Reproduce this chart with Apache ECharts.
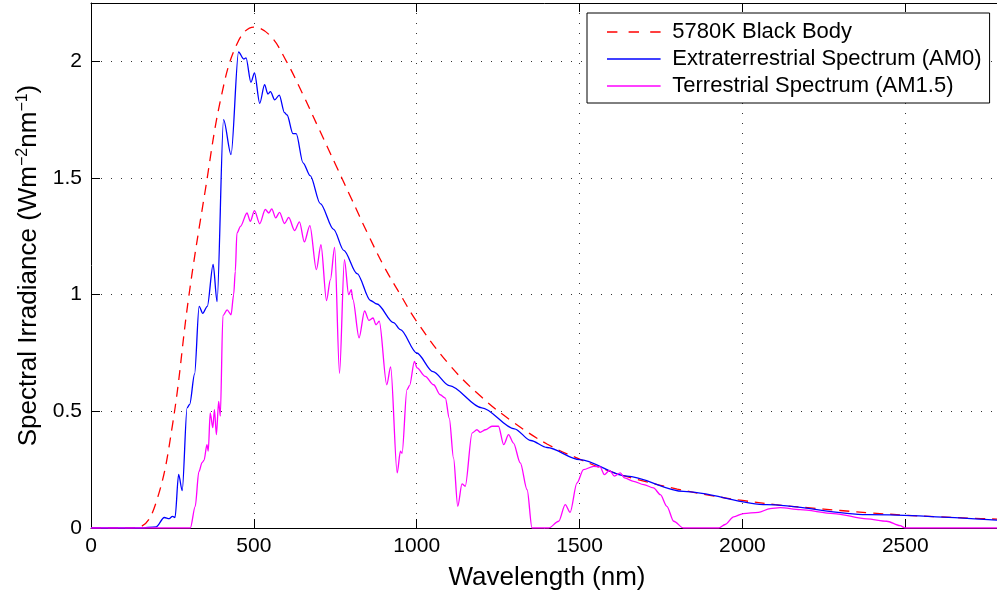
<!DOCTYPE html>
<html>
<head>
<meta charset="utf-8">
<script src="https://cdn.jsdelivr.net/npm/echarts@6/dist/echarts.min.js"></script>
<style>
  html, body { margin: 0; padding: 0; background: #fff; }
  #chart { width: 997px; height: 596px; }
</style>
</head>
<body>
<div id="chart"></div>
<script>
// 5780K black body
const bbWave = [0, 100, 150, 200, 250, 300, 350, 400, 450, 500, 550, 600, 650, 700, 750, 800, 850, 900, 950, 1000,
  1100, 1200, 1300, 1400, 1500, 1600, 1700, 1800, 1900, 2000, 2100, 2200, 2300, 2400, 2500, 2600, 2700, 2800]
const bbIrr = [0, 0, 0.005, 0.11, 0.44, 0.99, 1.44, 1.85, 2.08, 2.147, 2.11, 2.0, 1.86, 1.71, 1.56, 1.41, 1.26, 1.12, 1.0, 0.885,
  0.70, 0.56, 0.45, 0.36, 0.295, 0.24, 0.20, 0.167, 0.14, 0.118, 0.10, 0.087, 0.075, 0.064, 0.055, 0.048, 0.042, 0.037]

// Extraterrestrial spectrum AM0
const am0Wave = [0, 150, 200, 225, 240, 250, 258, 269, 280, 295, 303, 318, 332, 343, 357, 375, 387, 407, 430, 453, 469, 476,
  491, 502, 518, 533, 543, 551, 564, 578, 594, 602, 620, 630, 651, 673, 704, 745, 776, 817, 858, 878, 929, 950, 1000,
  1050, 1100, 1200, 1300, 1350, 1400, 1500, 1645, 1819, 2075, 2382, 2800]
const am0Irr = [0, 0, 0.005, 0.045, 0.04, 0.05, 0.045, 0.23, 0.16, 0.515, 0.53, 0.66, 0.95, 0.92, 0.95, 1.13, 0.97, 1.75, 1.60, 2.04, 2.01, 2.015,
  1.91, 1.95, 1.82, 1.90, 1.86, 1.87, 1.835, 1.855, 1.78, 1.77, 1.69, 1.69, 1.565, 1.51, 1.39, 1.28, 1.19, 1.09, 0.975, 0.96, 0.88, 0.85, 0.75,
  0.67, 0.61, 0.515, 0.425, 0.375, 0.345, 0.293, 0.222, 0.157, 0.10, 0.057, 0.032]

// Terrestrial spectrum AM1.5
const am15Wave = [0, 285, 305, 320, 331, 341, 347, 356, 360, 366, 374, 379, 385, 392, 397, 405, 418, 430, 438, 443, 448, 459,
  479, 489, 502, 518, 535, 546, 555, 567, 579, 594, 607, 625, 640, 655, 672, 692, 706, 723, 735, 748, 763, 778, 791, 799,
  804, 823, 840, 853, 866, 875, 885, 908, 920, 940, 950, 955, 970, 978, 993, 1001, 1026, 1052, 1072, 1088, 1100, 1113,
  1126, 1139, 1149, 1170, 1185, 1195, 1211, 1231, 1251, 1267, 1282, 1297, 1318, 1339, 1354, 1405, 1436, 1456, 1471,
  1492, 1512, 1543, 1563, 1576, 1592, 1607, 1625, 1638, 1666, 1697, 1727, 1748, 1768, 1789, 1819, 1927, 1947, 1973,
  2003, 2049, 2085, 2116, 2177, 2280, 2382, 2443, 2484, 2500, 2800]
const am15Irr = [0, 0, 0, 0.093, 0.24, 0.28, 0.29, 0.357, 0.33, 0.493, 0.43, 0.507, 0.40, 0.543, 0.48, 0.91, 0.935, 0.914, 1.0, 1.10, 1.264, 1.293,
  1.35, 1.314, 1.36, 1.304, 1.365, 1.35, 1.368, 1.329, 1.353, 1.305, 1.331, 1.275, 1.312, 1.226, 1.296, 1.107, 1.214, 0.975, 1.064, 1.203, 0.663, 1.15, 1.0, 1.021,
  0.98, 0.815, 0.93, 0.89, 0.90, 0.871, 0.886, 0.614, 0.69, 0.236, 0.329, 0.32, 0.593, 0.61, 0.714, 0.686, 0.65, 0.614, 0.571, 0.557, 0.47, 0.30,
  0.093, 0.189, 0.179, 0.407, 0.421, 0.41, 0.421, 0.436, 0.436, 0.357, 0.40, 0.364, 0.279, 0.164, 0, 0, 0.029, 0.10, 0.067,
  0.193, 0.25, 0.264, 0.262, 0.229, 0.247, 0.222, 0.236, 0.215, 0.20, 0.186, 0.172, 0.143, 0.093, 0.029, 0, 0, 0.015, 0.048,
  0.062, 0.067, 0.083, 0.087, 0.079, 0.062, 0.039, 0.029, 0.01, 0, 0]

const seriesNames = ['5780K Black Body', 'Extraterrestrial Spectrum (AM0)', 'Terrestrial Spectrum (AM1.5)']

const zip = (xs, ys) => xs.map((x, i) => [x, ys[i]])

const font = "'Liberation Sans', Arial, Helvetica, sans-serif"

// legend icons: dashed and solid line samples
const dashIcon = 'path://M0,0h13v2h-13z M27,0h13v2h-13z M54,0h13v2h-13z'
const solidIcon = 'path://M0,0h67v2h-67z'

const chart = echarts.init(document.getElementById('chart'), null, { renderer: 'canvas' })

const option = {
  animation: false,
  textStyle: { fontFamily: font },
  grid: { left: 91, right: -6, top: 3, bottom: 68, outerBoundsMode: 'none' },
  legend: {
    orient: 'vertical',
    left: 587,
    top: 13,
    padding: [8, 8, 6, 20],
    itemGap: 5,
    itemWidth: 67,
    itemHeight: 1.6,
    backgroundColor: '#fff',
    borderColor: '#000',
    borderWidth: 1,
    borderRadius: 0,
    textStyle: { fontSize: 22, color: '#000', fontFamily: font },
    data: [
      { name: seriesNames[0], icon: dashIcon, itemStyle: { color: '#ff0000' } },
      { name: seriesNames[1], icon: solidIcon, itemStyle: { color: '#0000ff' } },
      { name: seriesNames[2], icon: solidIcon, itemStyle: { color: '#ff00ff' } }
    ]
  },
  xAxis: [
    {
      type: 'value',
      min: 0,
      max: 2800,
      interval: 500,
      name: 'Wavelength (nm)',
      nameLocation: 'middle',
      nameGap: 37,
      nameTextStyle: { fontSize: 26, color: '#000', fontFamily: font },
      axisLine: { show: true, lineStyle: { color: '#000', width: 1 } },
      axisTick: { show: true, inside: true, length: 9, lineStyle: { color: '#000' } },
      axisLabel: { fontSize: 21, color: '#000', margin: 8, showMaxLabel: false, formatter: v => String(v) },
      splitLine: { show: true, lineStyle: { color: '#333', type: [1, 9], width: 1 } }
    },
    {
      type: 'value',
      position: 'top',
      min: 0,
      max: 2800,
      interval: 500,
      axisLine: { show: true, onZero: false, lineStyle: { color: '#000', width: 1 } },
      axisTick: { show: true, inside: true, length: 9, lineStyle: { color: '#000' } },
      axisLabel: { show: false },
      splitLine: { show: false }
    }
  ],
  yAxis: {
    type: 'value',
    min: 0,
    max: 2.25,
    interval: 0.5,
    name: 'Spectral Irradiance (Wm{sup|−2}nm{sup|−1})',
    nameLocation: 'middle',
    nameGap: 47,
    nameTextStyle: {
      fontSize: 26, color: '#000', fontFamily: font,
      rich: { sup: { fontSize: 16, color: '#000', fontFamily: font, verticalAlign: 'top', padding: [0, 0, 12, 0] } }
    },
    axisLine: { show: true, lineStyle: { color: '#000', width: 1 } },
    axisTick: { show: true, inside: true, length: 9, lineStyle: { color: '#000' } },
    axisLabel: { fontSize: 21, color: '#000', margin: 9, showMaxLabel: false },
    splitLine: { show: true, lineStyle: { color: '#333', type: [1, 9], width: 1 } }
  },
  series: [
    {
      name: seriesNames[0],
      type: 'line',
      data: zip(bbWave, bbIrr),
      smooth: 0.4,
      showSymbol: false,
      symbol: 'none',
      lineStyle: { color: '#ff0000', width: 1.3, type: [10, 7] },
      itemStyle: { color: '#ff0000' },
      z: 3
    },
    {
      name: seriesNames[1],
      type: 'line',
      data: zip(am0Wave, am0Irr),
      smooth: 0.3,
      smoothMonotone: 'x',
      showSymbol: false,
      symbol: 'none',
      lineStyle: { color: '#0000ff', width: 1.3 },
      itemStyle: { color: '#0000ff' },
      z: 4
    },
    {
      name: seriesNames[2],
      type: 'line',
      data: zip(am15Wave, am15Irr),
      smooth: 0.3,
      smoothMonotone: 'x',
      showSymbol: false,
      symbol: 'none',
      lineStyle: { color: '#ff00ff', width: 1.3 },
      itemStyle: { color: '#ff00ff' },
      z: 5
    }
  ]
}

chart.setOption(option)
window.addEventListener('resize', () => chart.resize())
</script>
</body>
</html>
